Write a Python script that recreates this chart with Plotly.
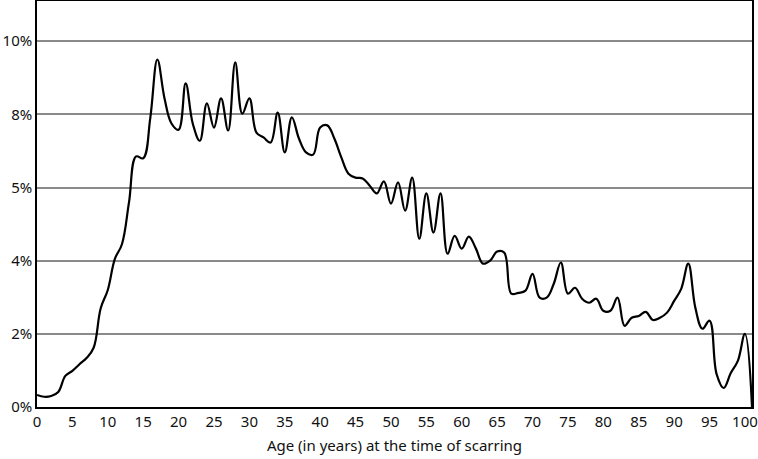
import plotly.graph_objects as go

# age in years at the time of scarring
ages = list(range(0, 102))

# share of cases (in gridline units)
share = [0.33, 0.28, 0.30, 0.41, 0.85, 0.99, 1.17, 1.34, 1.62, 2.70,
         3.20, 4.05, 4.45, 5.60, 6.85, 6.80, 7.90, 9.50, 8.45, 7.75,
         7.58, 8.85, 7.75, 7.28, 8.30, 7.64, 8.44, 7.56, 9.42, 8.02,
         8.44, 7.50, 7.37, 7.23, 8.05, 6.96, 7.92, 7.34, 6.96, 6.90,
         7.64, 7.70, 7.34, 6.82, 6.38, 6.27, 6.25, 6.05, 5.84, 6.17,
         5.56, 6.14, 5.37, 6.27, 4.60, 5.84, 4.77, 5.84, 4.19, 4.68,
         4.33, 4.66, 4.33, 3.92, 4.00, 4.25, 4.22, 3.10, 3.12, 3.18,
         3.64, 2.99, 2.99, 3.37, 3.95, 3.10, 3.26, 2.96, 2.85, 2.96,
         2.63, 2.63, 2.99, 2.22, 2.44, 2.49, 2.60, 2.38, 2.44, 2.58,
         2.90, 3.23, 3.92, 2.71, 2.14, 2.36, 0.90, 0.52, 0.93, 1.26,
         2.00, 0.00]

y_ticks = [0, 2, 4, 6, 8, 10]
y_labels = ['0%', '2%', '4%', '5%', '8%', '10%']
x_ticks = list(range(0, 101, 5))

font = dict(family='Noto Sans', size=15, color='#111111')

fig = go.Figure()
fig.add_trace(go.Scatter(
    x=ages, y=share, mode='lines',
    line=dict(color='black', width=2.2, shape='spline', smoothing=1.1),
    hoverinfo='skip'
))

fig.update_layout(
    width=758, height=459,
    margin=dict(l=37, r=6, t=1, b=52),
    paper_bgcolor='white', plot_bgcolor='white',
    showlegend=False, font=font
)
fig.update_xaxes(
    range=[0, 101], tickvals=x_ticks, showgrid=False, zeroline=False,
    showline=True, linecolor='black', linewidth=1.5, mirror=True,
    ticks='', automargin=False,
    title=dict(text='Age (in years) at the time of scarring',
               font=font, standoff=11)
)
fig.update_yaxes(
    range=[0, 11.1], tickvals=y_ticks, ticktext=y_labels,
    showgrid=True, gridcolor='#8a8a8a', gridwidth=1.5, zeroline=False,
    showline=True, linecolor='black', linewidth=1.5, mirror=True,
    ticks='', automargin=False
)

# drop the default page margin so the figure sits at the window's corner
fig.write_html("out.html", config={'displayModeBar': False},
               post_script="document.body.style.margin='0';")
